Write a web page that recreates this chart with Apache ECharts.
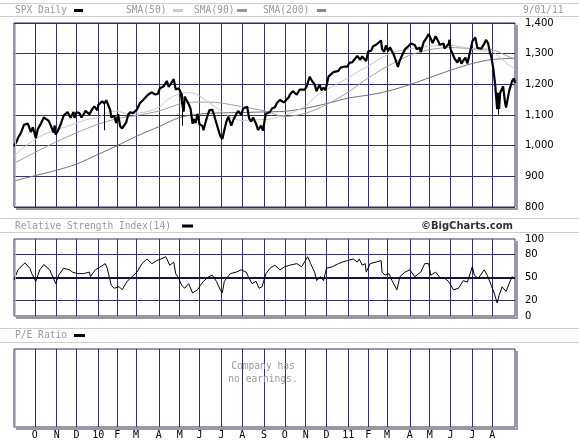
<!DOCTYPE html>
<html>
<head>
<meta charset="utf-8">
<script src="https://cdn.jsdelivr.net/npm/echarts/dist/echarts.min.js"></script>
<style>
html, body { margin: 0; padding: 0; background: #fff; }
#chart { width: 579px; height: 444px; }
</style>
</head>
<body>
<div id="chart"></div>
<script>
// NYSE holidays inside the window (trading-day calendar)
var holidays = ['2009-09-07', '2009-11-26', '2009-12-25', '2010-01-01', '2010-01-18', '2010-02-15',
    '2010-04-02', '2010-05-31', '2010-07-05', '2010-09-06', '2010-11-25', '2010-12-24',
    '2011-01-17', '2011-02-21', '2011-04-22', '2011-05-30', '2011-07-04'];
var monthLetters = ['J', 'F', 'M', 'A', 'M', 'J', 'J', 'A', 'S', 'O', 'N', 'D'];
var rsiTicks = [0, 20, 50, 80, 100];

// SPX daily close
var spxClose = [
    ['2009-09-01', 998], ['2009-09-02', 994], ['2009-09-04', 1016], ['2009-09-08', 1025], ['2009-09-11', 1042],
    ['2009-09-16', 1068], ['2009-09-18', 1068], ['2009-09-22', 1072], ['2009-09-25', 1044], ['2009-09-29', 1060],
    ['2009-10-02', 1025], ['2009-10-06', 1054], ['2009-10-09', 1071], ['2009-10-14', 1092], ['2009-10-16', 1087],
    ['2009-10-21', 1081], ['2009-10-23', 1079], ['2009-10-28', 1043], ['2009-10-29', 1066], ['2009-10-30', 1036],
    ['2009-11-03', 1047], ['2009-11-06', 1069], ['2009-11-11', 1098], ['2009-11-13', 1093], ['2009-11-17', 1110],
    ['2009-11-20', 1091], ['2009-11-25', 1110], ['2009-11-27', 1091], ['2009-12-01', 1109], ['2009-12-04', 1106],
    ['2009-12-08', 1092], ['2009-12-11', 1106], ['2009-12-14', 1114], ['2009-12-18', 1102], ['2009-12-23', 1120],
    ['2009-12-28', 1128], ['2009-12-31', 1115],
    ['2010-01-04', 1133], ['2010-01-08', 1145], ['2010-01-12', 1137], ['2010-01-14', 1148], ['2010-01-19', 1150],
    ['2010-01-21', 1116], ['2010-01-22', 1092], ['2010-01-27', 1098], ['2010-01-29', 1074], ['2010-02-02', 1103],
    ['2010-02-04', 1063], ['2010-02-08', 1056], ['2010-02-12', 1075], ['2010-02-17', 1100], ['2010-02-19', 1109],
    ['2010-02-24', 1106], ['2010-02-26', 1105], ['2010-03-02', 1118], ['2010-03-05', 1139], ['2010-03-10', 1148],
    ['2010-03-12', 1150], ['2010-03-17', 1166], ['2010-03-19', 1160], ['2010-03-23', 1174], ['2010-03-26', 1167],
    ['2010-03-31', 1169], ['2010-04-05', 1187], ['2010-04-09', 1194], ['2010-04-14', 1211], ['2010-04-16', 1192],
    ['2010-04-21', 1206], ['2010-04-23', 1217], ['2010-04-26', 1212], ['2010-04-27', 1183], ['2010-04-30', 1187],
    ['2010-05-04', 1174], ['2010-05-06', 1128], ['2010-05-07', 1111], ['2010-05-10', 1160], ['2010-05-14', 1136],
    ['2010-05-18', 1120], ['2010-05-20', 1071], ['2010-05-21', 1087], ['2010-05-25', 1074], ['2010-05-27', 1103],
    ['2010-06-01', 1070], ['2010-06-04', 1064], ['2010-06-07', 1050], ['2010-06-10', 1087], ['2010-06-15', 1116],
    ['2010-06-18', 1117], ['2010-06-21', 1113], ['2010-06-24', 1074], ['2010-06-29', 1041], ['2010-06-30', 1031],
    ['2010-07-02', 1022], ['2010-07-06', 1028], ['2010-07-09', 1078], ['2010-07-13', 1095], ['2010-07-16', 1065],
    ['2010-07-20', 1083], ['2010-07-23', 1103], ['2010-07-27', 1113], ['2010-07-30', 1101], ['2010-08-03', 1121],
    ['2010-08-09', 1127], ['2010-08-11', 1089], ['2010-08-13', 1079], ['2010-08-17', 1092], ['2010-08-20', 1071],
    ['2010-08-24', 1051], ['2010-08-27', 1065], ['2010-08-31', 1049], ['2010-09-02', 1090], ['2010-09-03', 1104],
    ['2010-09-08', 1098], ['2010-09-10', 1110], ['2010-09-14', 1121], ['2010-09-17', 1125], ['2010-09-21', 1139],
    ['2010-09-24', 1149], ['2010-09-28', 1147], ['2010-09-30', 1141], ['2010-10-04', 1138], ['2010-10-07', 1158],
    ['2010-10-08', 1166], ['2010-10-13', 1178], ['2010-10-15', 1176], ['2010-10-19', 1166], ['2010-10-22', 1183],
    ['2010-10-26', 1185], ['2010-10-29', 1183], ['2010-11-02', 1193], ['2010-11-05', 1225], ['2010-11-09', 1213],
    ['2010-11-12', 1200], ['2010-11-16', 1178], ['2010-11-19', 1199], ['2010-11-23', 1180], ['2010-11-26', 1189],
    ['2010-11-30', 1181], ['2010-12-03', 1225], ['2010-12-07', 1224], ['2010-12-10', 1240], ['2010-12-14', 1242],
    ['2010-12-17', 1244], ['2010-12-21', 1254], ['2010-12-23', 1257], ['2010-12-28', 1258], ['2010-12-31', 1258],
    ['2011-01-04', 1270], ['2011-01-07', 1272], ['2011-01-11', 1275], ['2011-01-14', 1293], ['2011-01-18', 1295],
    ['2011-01-20', 1280], ['2011-01-24', 1291], ['2011-01-26', 1296], ['2011-01-28', 1276], ['2011-02-01', 1307],
    ['2011-02-04', 1310], ['2011-02-08', 1324], ['2011-02-11', 1329], ['2011-02-15', 1328], ['2011-02-18', 1343],
    ['2011-02-22', 1315], ['2011-02-24', 1306], ['2011-02-28', 1327], ['2011-03-02', 1308], ['2011-03-04', 1321],
    ['2011-03-08', 1321], ['2011-03-10', 1295], ['2011-03-14', 1296], ['2011-03-16', 1257], ['2011-03-18', 1279],
    ['2011-03-22', 1293], ['2011-03-25', 1314], ['2011-03-29', 1319], ['2011-03-31', 1326], ['2011-04-04', 1333],
    ['2011-04-08', 1328], ['2011-04-12', 1314], ['2011-04-15', 1320], ['2011-04-18', 1305], ['2011-04-21', 1338],
    ['2011-04-26', 1347], ['2011-04-29', 1364], ['2011-05-02', 1361], ['2011-05-05', 1335], ['2011-05-06', 1340],
    ['2011-05-10', 1357], ['2011-05-13', 1338], ['2011-05-16', 1329], ['2011-05-20', 1333], ['2011-05-23', 1317],
    ['2011-05-27', 1331], ['2011-05-31', 1345], ['2011-06-01', 1315], ['2011-06-03', 1300], ['2011-06-07', 1285],
    ['2011-06-10', 1271], ['2011-06-14', 1288], ['2011-06-16', 1267], ['2011-06-20', 1278], ['2011-06-22', 1287],
    ['2011-06-24', 1268], ['2011-06-28', 1296], ['2011-07-01', 1340], ['2011-07-05', 1337], ['2011-07-07', 1353],
    ['2011-07-11', 1319], ['2011-07-15', 1316], ['2011-07-19', 1327], ['2011-07-22', 1345], ['2011-07-26', 1332],
    ['2011-07-28', 1300], ['2011-07-29', 1292], ['2011-08-01', 1287], ['2011-08-02', 1254], ['2011-08-04', 1200],
    ['2011-08-05', 1199], ['2011-08-08', 1119], ['2011-08-09', 1172], ['2011-08-10', 1120], ['2011-08-11', 1172],
    ['2011-08-12', 1179], ['2011-08-16', 1193], ['2011-08-18', 1140], ['2011-08-19', 1124], ['2011-08-22', 1123],
    ['2011-08-24', 1177], ['2011-08-26', 1177], ['2011-08-29', 1210], ['2011-08-31', 1219], ['2011-09-01', 1204]
];

// single-day wicks that stick out of the band
var spikeDates = ['2010-01-12', '2010-05-06', '2011-08-09'];
var spikeHighs = [1137, 1170, 1172];
var spikeLows = [1050, 1065, 1101];

var sma50 = [
    ['2009-09-01', 966], ['2009-09-15', 992], ['2009-10-01', 1020], ['2009-10-15', 1038], ['2009-11-02', 1052],
    ['2009-11-16', 1062], ['2009-12-01', 1073], ['2009-12-15', 1085], ['2010-01-04', 1092], ['2010-01-19', 1110],
    ['2010-02-01', 1112], ['2010-02-16', 1105], ['2010-03-01', 1106], ['2010-03-15', 1110], ['2010-04-01', 1125],
    ['2010-04-15', 1150], ['2010-05-03', 1170], ['2010-05-12', 1173], ['2010-05-24', 1170], ['2010-06-01', 1162],
    ['2010-06-15', 1140], ['2010-07-01', 1113], ['2010-07-15', 1093], ['2010-08-02', 1082], ['2010-08-16', 1084],
    ['2010-09-01', 1085], ['2010-09-15', 1088], ['2010-10-01', 1100], ['2010-10-15', 1112], ['2010-11-01', 1130],
    ['2010-11-15', 1160], ['2010-12-01', 1183], ['2010-12-15', 1200], ['2011-01-03', 1221], ['2011-01-18', 1242],
    ['2011-02-01', 1259], ['2011-02-15', 1280], ['2011-03-01', 1296], ['2011-03-15', 1308], ['2011-04-01', 1316],
    ['2011-04-15', 1320], ['2011-05-02', 1324], ['2011-05-16', 1327], ['2011-06-01', 1328], ['2011-06-15', 1322],
    ['2011-07-01', 1316], ['2011-07-15', 1310], ['2011-08-01', 1306], ['2011-08-10', 1290], ['2011-08-22', 1267],
    ['2011-09-01', 1250]
];
var sma90 = [
    ['2009-09-01', 942], ['2009-10-01', 978], ['2009-11-02', 1013], ['2009-12-01', 1042], ['2010-01-04', 1070],
    ['2010-02-01', 1088], ['2010-03-01', 1098], ['2010-04-01', 1113], ['2010-05-03', 1136], ['2010-05-20', 1142],
    ['2010-06-15', 1142], ['2010-07-01', 1139], ['2010-08-02', 1127], ['2010-09-01', 1114], ['2010-10-01', 1095],
    ['2010-11-01', 1106], ['2010-12-01', 1134], ['2011-01-03', 1175], ['2011-02-01', 1221], ['2011-03-01', 1258],
    ['2011-04-01', 1295], ['2011-05-02', 1313], ['2011-06-01', 1320], ['2011-07-01', 1316], ['2011-08-01', 1313],
    ['2011-08-15', 1300], ['2011-09-01', 1281]
];
var sma200 = [
    ['2009-09-01', 885], ['2009-10-01', 902], ['2009-11-02', 920], ['2009-12-01', 940], ['2010-01-04', 972],
    ['2010-02-01', 1000], ['2010-03-01', 1030], ['2010-04-01', 1062], ['2010-05-03', 1092], ['2010-06-01', 1103],
    ['2010-07-01', 1107], ['2010-08-02', 1108], ['2010-09-01', 1110], ['2010-10-01', 1112], ['2010-11-01', 1122],
    ['2010-12-01', 1137], ['2011-01-03', 1155], ['2011-02-01', 1165], ['2011-03-01', 1177], ['2011-04-01', 1199],
    ['2011-05-02', 1222], ['2011-06-01', 1246], ['2011-07-01', 1268], ['2011-08-01', 1281], ['2011-09-01', 1285]
];

// RSI(14)
var rsi14 = [
    ['2009-09-01', 47], ['2009-09-08', 60], ['2009-09-17', 69], ['2009-09-24', 62], ['2009-09-28', 55],
    ['2009-10-02', 45], ['2009-10-08', 60], ['2009-10-14', 67], ['2009-10-22', 60], ['2009-10-30', 42],
    ['2009-11-04', 53], ['2009-11-11', 62], ['2009-11-19', 60], ['2009-11-24', 57], ['2009-12-02', 55],
    ['2009-12-10', 55], ['2009-12-18', 57], ['2009-12-21', 51], ['2009-12-29', 60], ['2010-01-05', 63],
    ['2010-01-13', 68], ['2010-01-15', 62], ['2010-01-22', 40], ['2010-01-27', 36], ['2010-02-03', 38],
    ['2010-02-08', 34], ['2010-02-16', 45], ['2010-02-23', 51], ['2010-03-02', 57], ['2010-03-09', 68],
    ['2010-03-16', 74], ['2010-03-23', 68], ['2010-03-30', 72], ['2010-04-06', 74], ['2010-04-13', 77],
    ['2010-04-19', 66], ['2010-04-23', 70], ['2010-04-27', 55], ['2010-04-30', 49], ['2010-05-05', 40],
    ['2010-05-10', 36], ['2010-05-14', 42], ['2010-05-20', 30], ['2010-05-27', 34], ['2010-06-02', 40],
    ['2010-06-07', 45], ['2010-06-14', 51], ['2010-06-18', 53], ['2010-06-24', 45], ['2010-06-30', 34],
    ['2010-07-02', 30], ['2010-07-07', 45], ['2010-07-15', 55], ['2010-07-23', 57], ['2010-07-30', 60],
    ['2010-08-06', 57], ['2010-08-11', 49], ['2010-08-16', 42], ['2010-08-20', 45], ['2010-08-25', 36],
    ['2010-08-30', 38], ['2010-09-03', 55], ['2010-09-10', 62], ['2010-09-17', 66], ['2010-09-24', 60],
    ['2010-10-01', 64], ['2010-10-08', 66], ['2010-10-19', 68], ['2010-10-26', 64], ['2010-11-03', 77],
    ['2010-11-08', 68], ['2010-11-12', 57], ['2010-11-16', 46], ['2010-11-22', 51], ['2010-11-26', 46],
    ['2010-12-01', 62], ['2010-12-09', 64], ['2010-12-17', 68], ['2010-12-23', 70], ['2010-12-31', 72],
    ['2011-01-10', 74], ['2011-01-14', 70], ['2011-01-19', 74], ['2011-01-24', 66], ['2011-01-27', 68],
    ['2011-01-28', 57], ['2011-02-03', 68], ['2011-02-11', 70], ['2011-02-18', 72], ['2011-02-22', 57],
    ['2011-02-25', 53], ['2011-03-03', 55], ['2011-03-08', 46], ['2011-03-15', 34], ['2011-03-18', 51],
    ['2011-03-25', 57], ['2011-04-01', 60], ['2011-04-08', 51], ['2011-04-18', 57], ['2011-04-25', 68],
    ['2011-04-29', 68], ['2011-05-03', 53], ['2011-05-10', 57], ['2011-05-17', 49], ['2011-05-23', 49],
    ['2011-05-27', 45], ['2011-06-06', 34], ['2011-06-13', 36], ['2011-06-20', 46], ['2011-06-24', 44],
    ['2011-07-01', 64], ['2011-07-06', 53], ['2011-07-12', 49], ['2011-07-20', 60], ['2011-07-25', 53],
    ['2011-07-29', 40], ['2011-08-03', 30], ['2011-08-08', 17], ['2011-08-10', 27], ['2011-08-15', 38],
    ['2011-08-19', 32], ['2011-08-24', 42], ['2011-08-29', 51], ['2011-09-01', 49]
];

// trading days Sep 1 2009 .. Sep 1 2011
var days = [];
for (var t = Date.UTC(2009, 8, 1); t <= Date.UTC(2011, 8, 1); t += 86400000) {
    var d = new Date(t);
    var s = d.toISOString().slice(0, 10);
    if (d.getUTCDay() === 0 || d.getUTCDay() === 6 || holidays.indexOf(s) >= 0) continue;
    days.push(s);
}

function dayIndex(s) {
    for (var i = 0; i < days.length; i++) {
        if (days[i] >= s) return i;
    }
    return days.length - 1;
}

// put [date, value] pairs on the trading-day category axis
function toSeries(pairs) {
    var out = days.map(function() { return null; });
    pairs.forEach(function(p) { out[dayIndex(p[0])] = p[1]; });
    return out;
}

// first trading day of each month (the last day sits on the right border, no label)
function isMonthStart(i) {
    return i > 0 && i < days.length - 1 && days[i].slice(5, 7) !== days[i - 1].slice(5, 7);
}

function monthLabel(v) {
    var m = +v.slice(5, 7);
    return m === 1 ? v.slice(2, 4) : monthLetters[m - 1];
}

var NAVY = '#30306a';
var MONO = '"DejaVu Sans Mono", monospace';
var panels = [
    { top: 23, height: 184 },
    { top: 239, height: 77 },
    { top: 349, height: 78 }
];
var LEFT = 14, WIDTH = 501;

var grid = panels.map(function(p) {
    return { left: LEFT, top: p.top, width: WIDTH, height: p.height, show: true,
        borderColor: NAVY, borderWidth: 1, backgroundColor: '#fff' };
});

var xAxis = panels.map(function(p, g) {
    return {
        type: 'category', gridIndex: g, data: days, boundaryGap: false,
        axisLine: { show: false }, axisTick: { show: false },
        axisLabel: {
            show: g === 2, interval: function(i) { return isMonthStart(i); },
            formatter: monthLabel, margin: 3, color: '#000', fontFamily: MONO, fontSize: 10
        },
        splitLine: { show: true, interval: function(i) { return isMonthStart(i); },
            lineStyle: { color: NAVY, width: 1 } }
    };
});

var axisFont = { color: '#000', fontFamily: '"DejaVu Sans", Verdana, sans-serif', fontSize: 10, margin: 10 };

var yAxis = [{
    type: 'value', gridIndex: 0, position: 'right', min: 800, max: 1400, interval: 100,
    axisLine: { show: false }, axisTick: { show: false },
    axisLabel: Object.assign({ formatter: function(v) { return v.toLocaleString('en-US'); } }, axisFont),
    splitLine: { lineStyle: { color: NAVY, width: 1 } }
}, {
    type: 'value', gridIndex: 1, position: 'right', min: 0, max: 100, interval: 10,
    axisLine: { show: false }, axisTick: { show: false },
    axisLabel: Object.assign({ formatter: function(v) { return rsiTicks.indexOf(v) >= 0 ? String(v) : ''; } }, axisFont),
    splitLine: { show: false }
}, {
    type: 'value', gridIndex: 2, min: 0, max: 1, show: false
}];

function smaSeries(name, data, color) {
    return {
        name: name, type: 'line', xAxisIndex: 0, yAxisIndex: 0, data: toSeries(data),
        connectNulls: true, showSymbol: false, smooth: 0.3, silent: true,
        lineStyle: { color: color, width: 1 }, z: 3
    };
}

var spikeLines = spikeDates.map(function(dt, i) {
    var c = days[dayIndex(dt)];
    return [{ coord: [c, spikeHighs[i]] }, { coord: [c, spikeLows[i]] }];
});

var series = [
    smaSeries('SMA(200)', sma200, '#707070'),
    smaSeries('SMA(90)', sma90, '#a0a0a0'),
    smaSeries('SMA(50)', sma50, '#c8c8c8'),
    {
        name: 'SPX Daily', type: 'line', xAxisIndex: 0, yAxisIndex: 0, data: toSeries(spxClose),
        connectNulls: true, showSymbol: false, silent: true, z: 5,
        lineStyle: { color: '#000', width: 2.2 },
        markLine: { silent: true, symbol: 'none', label: { show: false },
            lineStyle: { color: '#000', width: 1, type: 'solid' }, data: spikeLines }
    },
    {
        name: 'RSI', type: 'line', xAxisIndex: 1, yAxisIndex: 1, data: toSeries(rsi14),
        connectNulls: true, showSymbol: false, silent: true, z: 5,
        lineStyle: { color: '#000', width: 1 },
        markLine: {
            silent: true, symbol: 'none', label: { show: false },
            data: [
                { yAxis: 20, lineStyle: { color: NAVY, width: 1, type: 'solid' } },
                { yAxis: 80, lineStyle: { color: NAVY, width: 1, type: 'solid' } },
                { yAxis: 50, lineStyle: { color: '#14143a', width: 2, type: 'solid' } }
            ]
        }
    }
];

// header bars, swatches, frame shadows
var graphic = [];
[3.5, 16.5, 218.5, 232.5, 328.5, 342.5].forEach(function(y) {
    graphic.push({ type: 'line', shape: { x1: 0, y1: y, x2: 579, y2: y }, style: { stroke: '#cfcfcf', lineWidth: 1 } });
});
panels.forEach(function(p) {
    var b = p.top + p.height;
    graphic.push({ type: 'rect', shape: { x: LEFT + WIDTH + 1, y: p.top + 2, width: 2, height: p.height }, style: { fill: '#9a9a9a' } });
    graphic.push({ type: 'rect', shape: { x: LEFT + 2, y: b + 1, width: WIDTH + 1, height: 2 }, style: { fill: '#9a9a9a' } });
    graphic.push({ type: 'line', shape: { x1: LEFT + 1.5, y1: p.top + 1, x2: LEFT + 1.5, y2: b }, style: { stroke: '#c0c0c0', lineWidth: 1 }, z: 10 });
});

function label(text, x, y, opts) {
    opts = opts || {};
    graphic.push({
        type: 'text', z: 20,
        style: { text: text, x: x, y: y, fill: opts.color || '#9a9a9a',
            font: opts.font || ('9.6px ' + MONO), textAlign: opts.align || 'left', textVerticalAlign: 'middle' }
    });
}
function swatch(x, y, w, color) {
    graphic.push({ type: 'rect', z: 20, shape: { x: x, y: y, width: w, height: 3 }, style: { fill: color } });
}

label('SPX Daily', 15, 10.5);
swatch(74, 9, 9, '#000');
label('SMA(50)', 126, 10.5);
swatch(173, 9, 10, '#cccccc');
label('SMA(90)', 194, 10.5);
swatch(237, 9, 10, '#999999');
label('SMA(200)', 263, 10.5);
swatch(317, 9, 9, '#888888');
label('9/01/11', 523, 10.5);

label('Relative Strength Index(14)', 15, 226);
swatch(182, 224.5, 11, '#000');
label('\u00a9BigCharts.com', 513, 226, { color: '#333', align: 'right', font: 'bold 10px "DejaVu Sans", Verdana, sans-serif' });

label('P/E Ratio', 15, 335.5);
swatch(74, 334, 11, '#000');
label('Company has', 263, 366, { align: 'center' });
label('no earnings.', 263, 379.5, { align: 'center' });

var myChart = echarts.init(document.getElementById('chart'), null, { renderer: 'canvas' });
myChart.setOption({
    animation: false,
    backgroundColor: '#fff',
    grid: grid,
    xAxis: xAxis,
    yAxis: yAxis,
    series: series,
    graphic: graphic
});
</script>
</body>
</html>
